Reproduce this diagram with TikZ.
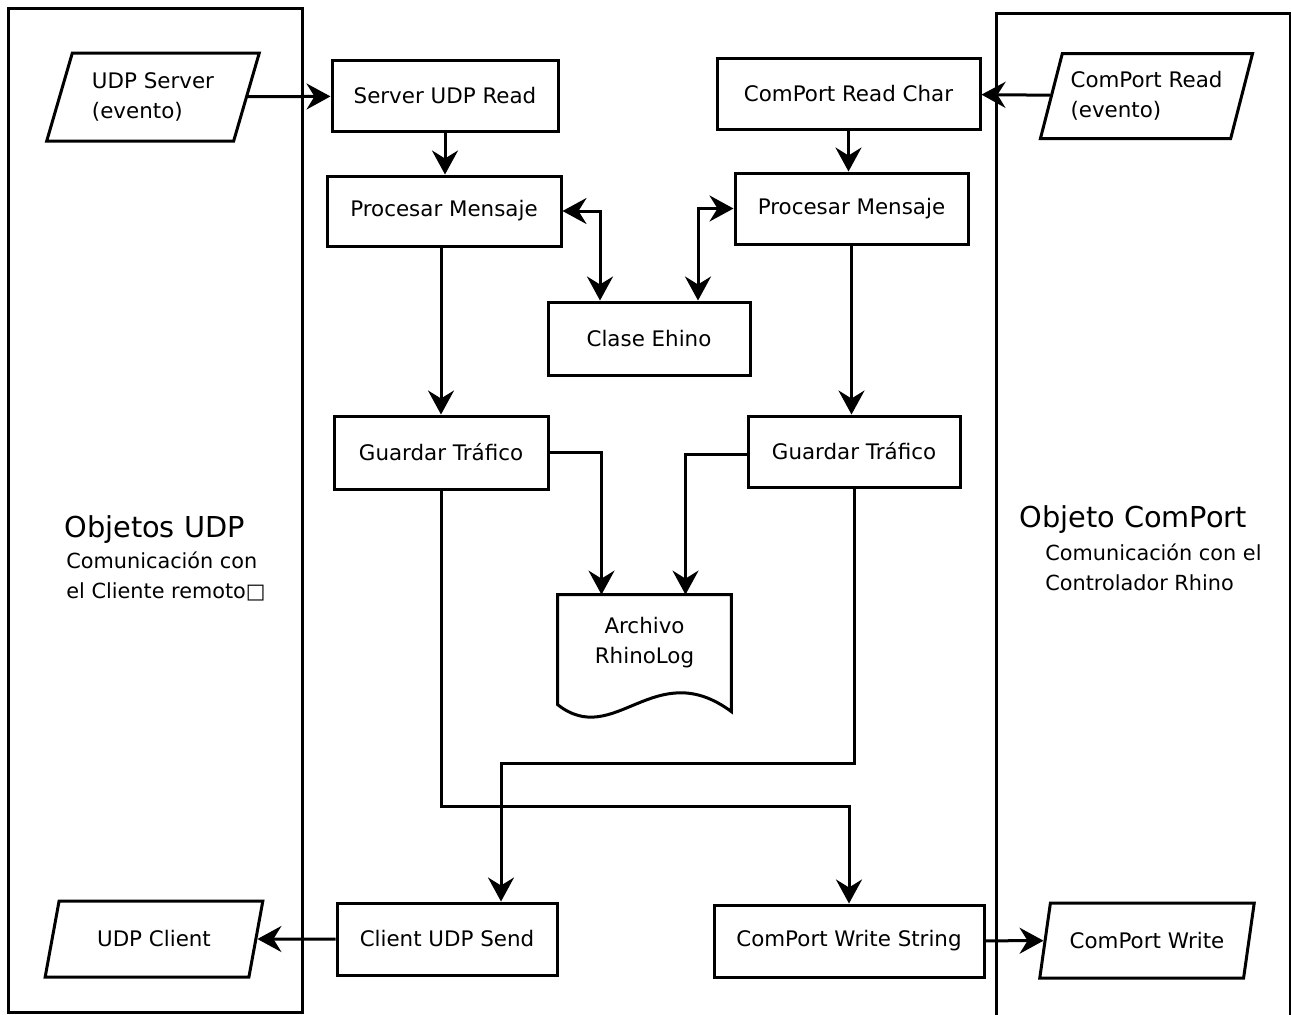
\documentclass[tikz,border=0pt]{standalone}
\usepackage{fontspec}
\setmainfont{DejaVu Sans}
\usetikzlibrary{shapes.geometric, arrows.meta, positioning, calc}

\begin{document}
\begin{tikzpicture}[
    x=0.5pt, y=-0.5pt,
    box/.style={rectangle, draw, line width=1.5pt, minimum height=35.5pt,
                font=\fontsize{10.7}{15}\selectfont, inner sep=2pt},
    io/.style={trapezium, trapezium left angle=70, trapezium right angle=110,
               trapezium stretches=true, draw, line width=1.5pt, align=left,
               font=\fontsize{10.7}{15}\selectfont, inner sep=2pt},
    grupo/.style={draw, line width=1.5pt},
    titulo/.style={font=\fontsize{14.4}{17}\selectfont, anchor=base west, inner sep=0pt},
    subtitulo/.style={font=\fontsize{10.4}{15}\selectfont, anchor=base west, align=left, inner sep=0pt},
    arr/.style={-{Stealth[length=12pt, width=13pt, inset=4pt]}, line width=1.5pt},
    darr/.style={{Stealth[length=12pt, width=13pt, inset=4pt]}-{Stealth[length=12pt, width=13pt, inset=4pt]}, line width=1.5pt},
]
    \useasboundingbox (0,0) rectangle (1291,1014);

    % Grupos
    \draw[grupo] (8,8) rectangle (302,1012);
    \draw[grupo] (996,1020) -- (996,13) -- (1290.5,13) -- (1290.5,1020);

    \node[titulo] (tudp) at (64,537) {Objetos UDP};
    \node[subtitulo] (sudp) at (66,598) {Comunicación con\\el Cliente remoto□};
    \node[titulo] (tcom) at (1019,527) {Objeto ComPort};
    \node[subtitulo] (scom) at (1045,590) {Comunicación con el\\Controlador Rhino};

    % Entradas y salidas
    \node[io, minimum width=107pt, minimum height=44pt] (udps) at (153,97) {UDP Server\\(evento)};
    \node[io, minimum width=106.5pt, minimum height=42.5pt] (cpread) at (1146.5,96) {ComPort Read\\(evento)};
    \node[io, minimum width=109pt, minimum height=38pt] (udpc) at (154,939) {UDP Client};
    \node[io, minimum width=108pt, minimum height=37.5pt] (cpwrite) at (1147,940.5) {ComPort Write};

    % Procesos
    \node[box, minimum width=113pt] (sread) at (445,96) {Server UDP Read};
    \node[box, minimum width=131.5pt] (cread) at (848.5,93.5) {ComPort Read Char};
    \node[box, minimum width=117pt, minimum height=35pt] (pml) at (444,211) {Procesar Mensaje};
    \node[box, minimum width=116.5pt] (pmr) at (851.5,208.5) {Procesar Mensaje};
    \node[box, minimum width=101pt, minimum height=36.5pt] (clase) at (649,338.5) {Clase Ehino};
    \node[box, minimum width=107pt, minimum height=36.5pt] (gtl) at (441,452.5) {Guardar Tráfico};
    \node[box, minimum width=106pt] (gtr) at (854,451.5) {Guardar Tráfico};
    \node[box, minimum width=110pt, minimum height=36pt] (csend) at (447,939) {Client UDP Send};
    \node[box, minimum width=135pt, minimum height=36pt] (cwrite) at (849,941) {ComPort Write String};

    % Archivo
    \node[minimum width=86.5pt, minimum height=48pt, align=center,
          font=\fontsize{10.7}{15}\selectfont] (log) at (644.5,643) {Archivo\\RhinoLog};
    \draw[grupo] (log.north west) -- (log.north east) -- ($(log.north east)+(0,117)$)
        .. controls ($(log.north west)+(97,60)$) and ($(log.north west)+(57,155)$) .. ($(log.north west)+(0,110)$) -- cycle;

    % Conexiones
    \draw[arr] (udps) -- (sread);
    \draw[arr] (cpread) -- (cread);
    \draw[arr] (sread.south) -- (sread.south |- pml.north);
    \draw[arr] (cread.south) -- (cread.south |- pmr.north);
    \draw[darr] (pml.east) -| ($(clase.north)+(-49,0)$);
    \draw[darr] (pmr.west) -| ($(clase.north)+(49,0)$);
    \draw[arr] (gtl.north |- pml.south) -- (gtl.north);
    \draw[arr] (pmr.south) -- (pmr.south |- gtr.north);
    \draw[arr] (gtl.east) -| ($(log.north)+(-43,0)$);
    \draw[arr] ($(gtr.west)+(0,3)$) -| ($(log.north)+(41,0)$);
    \draw[arr] (gtl.south) -- ++(0,316) -| (cwrite.north);
    \draw[arr] (gtr.south) -- ++(0,275) -| ($(csend.north)+(54,0)$);
    \draw[arr] (csend) -- (udpc);
    \draw[arr] (cwrite) -- (cpwrite);

\end{tikzpicture}
\end{document}
